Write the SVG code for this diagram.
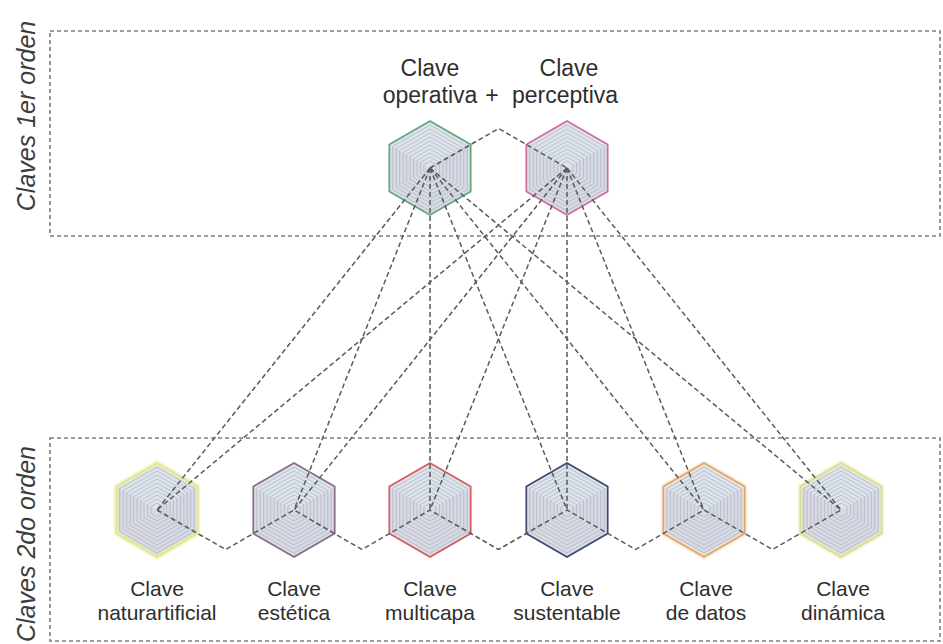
<svg xmlns="http://www.w3.org/2000/svg" xmlns:xlink="http://www.w3.org/1999/xlink" width="943" height="644" viewBox="0 0 943 644">
<style>
.box{fill:none;stroke:#7e7e7e;stroke-width:1.6;stroke-dasharray:4 3}
.con{fill:none;stroke:#5a5a5a;stroke-width:1.5;stroke-dasharray:5 3}
.ring{fill:none;stroke:#aab2bf;stroke-width:0.7}
.out{fill:none;stroke-width:1.7}
.glow{fill:none;stroke-width:5;opacity:0.6}
.lbl{font-family:"Liberation Sans",Arial,sans-serif;font-size:21px;fill:#2e2e2e;text-anchor:middle}
.top{font-size:23px}
.side{font-family:"Liberation Sans",Arial,sans-serif;font-size:25px;font-style:italic;fill:#3c3c3c;text-anchor:middle}
</style>
<defs>
<g id="hexbody">
<polygon points="0,-47 40.7,-23.5 40.7,23.5 0,47 -40.7,23.5 -40.7,-23.5" fill="#dce3eb"/>
<polygon points="0,0 -40.7,-23.5 -40.7,23.5 0,47" fill="#d9dae3"/>
<polygon points="0,0 40.7,-23.5 40.7,23.5 0,47" fill="#d6dae4"/>
<polygon class="ring" points="0,-43 37.24,-21.5 37.24,21.5 0,43 -37.24,21.5 -37.24,-21.5"/>
<polygon class="ring" points="0,-39 33.77,-19.5 33.77,19.5 0,39 -33.77,19.5 -33.77,-19.5"/>
<polygon class="ring" points="0,-35 30.31,-17.5 30.31,17.5 0,35 -30.31,17.5 -30.31,-17.5"/>
<polygon class="ring" points="0,-31 26.85,-15.5 26.85,15.5 0,31 -26.85,15.5 -26.85,-15.5"/>
<polygon class="ring" points="0,-27 23.38,-13.5 23.38,13.5 0,27 -23.38,13.5 -23.38,-13.5"/>
<polygon class="ring" points="0,-23 19.92,-11.5 19.92,11.5 0,23 -19.92,11.5 -19.92,-11.5"/>
<polygon class="ring" points="0,-19 16.45,-9.5 16.45,9.5 0,19 -16.45,9.5 -16.45,-9.5"/>
<polygon class="ring" points="0,-15 12.99,-7.5 12.99,7.5 0,15 -12.99,7.5 -12.99,-7.5"/>
<polygon class="ring" points="0,-11 9.53,-5.5 9.53,5.5 0,11 -9.53,5.5 -9.53,-5.5"/>
<polygon class="ring" points="0,-7 6.06,-3.5 6.06,3.5 0,7 -6.06,3.5 -6.06,-3.5"/>
</g>
<polygon id="hexout" points="0,-47 40.7,-23.5 40.7,23.5 0,47 -40.7,23.5 -40.7,-23.5"/>
</defs>
<rect width="943" height="644" fill="#ffffff"/>

<g id="frames">
<rect class="box" x="50" y="31" width="890" height="205"/>
<rect class="box" x="50" y="438" width="890" height="203"/>
<text class="side" transform="translate(35,116) rotate(-90)">Claves 1er orden</text>
<text class="side" transform="translate(35,544) rotate(-90)">Claves 2do orden</text>
</g>

<g id="node-operativa" transform="translate(430,168)">
<use href="#hexbody"/>
<use href="#hexout" class="out" stroke="#5fa877"/>
<text class="lbl top" x="0" y="-92">Clave</text>
<text class="lbl top" x="0" y="-65">operativa</text>
</g>
<g id="plus"><text class="lbl top" x="492" y="103">+</text></g>
<g id="node-perceptiva" transform="translate(567,168)">
<use href="#hexbody"/>
<use href="#hexout" class="out" stroke="#d46a9e"/>
<text class="lbl top" x="2" y="-92">Clave</text>
<text class="lbl top" x="-2" y="-65">perceptiva</text>
</g>

<g id="node-naturartificial" transform="translate(157,510)">
<use href="#hexbody"/>
<use href="#hexout" class="glow" stroke="#eef0a0"/>
<use href="#hexout" class="out" stroke="#e2e49a"/>
<text class="lbl" x="0" y="86">Clave</text>
<text class="lbl" x="0" y="110">naturartificial</text>
</g>
<g id="node-estetica" transform="translate(294,510)">
<use href="#hexbody"/>
<use href="#hexout" class="out" stroke="#8a6a88"/>
<text class="lbl" x="0" y="86">Clave</text>
<text class="lbl" x="0" y="110">estética</text>
</g>
<g id="node-multicapa" transform="translate(430,510)">
<use href="#hexbody"/>
<use href="#hexout" class="out" stroke="#d65a5a"/>
<text class="lbl" x="0" y="86">Clave</text>
<text class="lbl" x="0" y="110">multicapa</text>
</g>
<g id="node-sustentable" transform="translate(567,510)">
<use href="#hexbody"/>
<use href="#hexout" class="out" stroke="#3f4870"/>
<text class="lbl" x="0" y="86">Clave</text>
<text class="lbl" x="0" y="110">sustentable</text>
</g>
<g id="node-datos" transform="translate(704,510)">
<use href="#hexbody"/>
<use href="#hexout" class="glow" stroke="#f6e2c8"/>
<use href="#hexout" class="out" stroke="#e3a466"/>
<text class="lbl" x="2" y="86">Clave</text>
<text class="lbl" x="2" y="110">de datos</text>
</g>
<g id="node-dinamica" transform="translate(841,510)">
<use href="#hexbody"/>
<use href="#hexout" class="glow" stroke="#eef0b0"/>
<use href="#hexout" class="out" stroke="#d8dba0"/>
<text class="lbl" x="2" y="86">Clave</text>
<text class="lbl" x="2" y="110">dinámica</text>
</g>

<g id="connectors">
<polyline class="con" points="430,168 498.5,128.5 567,168"/>
<polyline class="con" points="157,510 225.5,549.5 294,510 362,549.5 430,510 498.5,549.5 567,510 635.5,549.5 704,510 772.5,549.5 841,510"/>
<line class="con" x1="430" y1="168" x2="157" y2="510"/>
<line class="con" x1="430" y1="168" x2="294" y2="510"/>
<line class="con" x1="430" y1="168" x2="430" y2="510"/>
<line class="con" x1="430" y1="168" x2="567" y2="510"/>
<line class="con" x1="430" y1="168" x2="704" y2="510"/>
<line class="con" x1="430" y1="168" x2="841" y2="510"/>
<line class="con" x1="567" y1="168" x2="157" y2="510"/>
<line class="con" x1="567" y1="168" x2="294" y2="510"/>
<line class="con" x1="567" y1="168" x2="430" y2="510"/>
<line class="con" x1="567" y1="168" x2="567" y2="510"/>
<line class="con" x1="567" y1="168" x2="704" y2="510"/>
<line class="con" x1="567" y1="168" x2="841" y2="510"/>
</g>
</svg>
